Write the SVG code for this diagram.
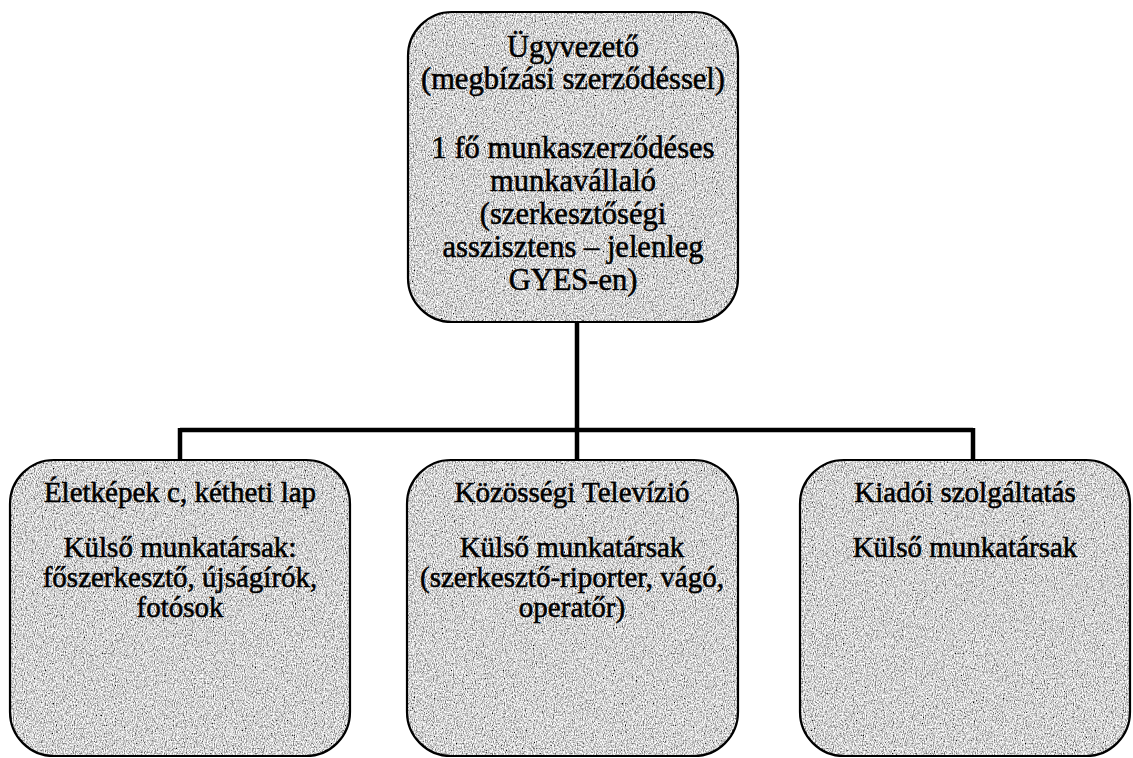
<svg xmlns="http://www.w3.org/2000/svg" width="1133" height="758" viewBox="0 0 1133 758">
<defs>
<filter id="grain" x="0" y="0" width="100%" height="100%">
<feTurbulence type="fractalNoise" baseFrequency="0.9 0.6" numOctaves="2" seed="3" result="n"/>
<feColorMatrix in="n" type="matrix" values="1.9 0 0 0 -0.3  1.9 0 0 0 -0.3  1.9 0 0 0 -0.3  0 0 0 0 1" result="g"/>
<feComposite in="g" in2="SourceGraphic" operator="in"/>
</filter>
<style>
.box{fill:#b0b0b0;}
.edge{fill:none;stroke:#000;stroke-width:2.2;}
.t{font-family:"Liberation Serif","Times New Roman",serif;font-size:29px;fill:#000;stroke:#000;stroke-width:0.55;text-anchor:middle;}
.top .t{font-size:30.5px;}
.conn{fill:none;stroke:#000;stroke-width:4.5;}
</style>
</defs>
<rect width="1133" height="758" fill="#fff"/>
<g id="connectors">
<path class="conn" d="M577 322 V430 M180 430 H973 M180 428 V460 M577 430 V460 M973 428 V460"/>
</g>
<g id="node-top" class="top">
<rect class="box" x="408" y="12" width="330" height="310" rx="44" filter="url(#grain)"/>
<rect class="edge" x="408" y="12" width="330" height="310" rx="44"/>
<text class="t" x="573" y="57">Ügyvezető</text>
<text class="t" x="573" y="89">(megbízási szerződéssel)</text>
<text class="t" x="573" y="158">1 fő munkaszerződéses</text>
<text class="t" x="573" y="191">munkavállaló</text>
<text class="t" x="573" y="224">(szerkesztőségi</text>
<text class="t" x="573" y="257">asszisztens – jelenleg</text>
<text class="t" x="573" y="290">GYES-en)</text>
</g>
<g id="node-left">
<rect class="box" x="10" y="460" width="340" height="296" rx="44" filter="url(#grain)"/>
<rect class="edge" x="10" y="460" width="340" height="296" rx="44"/>
<text class="t" x="180" y="502">Életképek c, kétheti lap</text>
<text class="t" x="180" y="557">Külső munkatársak:</text>
<text class="t" x="180" y="587">főszerkesztő, újságírók,</text>
<text class="t" x="180" y="617">fotósok</text>
</g>
<g id="node-middle">
<rect class="box" x="407" y="460" width="331" height="296" rx="44" filter="url(#grain)"/>
<rect class="edge" x="407" y="460" width="331" height="296" rx="44"/>
<text class="t" x="572" y="502">Közösségi Televízió</text>
<text class="t" x="572" y="557">Külső munkatársak</text>
<text class="t" x="572" y="587">(szerkesztő-riporter, vágó,</text>
<text class="t" x="572" y="617">operatőr)</text>
</g>
<g id="node-right">
<rect class="box" x="800" y="460" width="330" height="296" rx="44" filter="url(#grain)"/>
<rect class="edge" x="800" y="460" width="330" height="296" rx="44"/>
<text class="t" x="965" y="502">Kiadói szolgáltatás</text>
<text class="t" x="965" y="557">Külső munkatársak</text>
</g>
</svg>
